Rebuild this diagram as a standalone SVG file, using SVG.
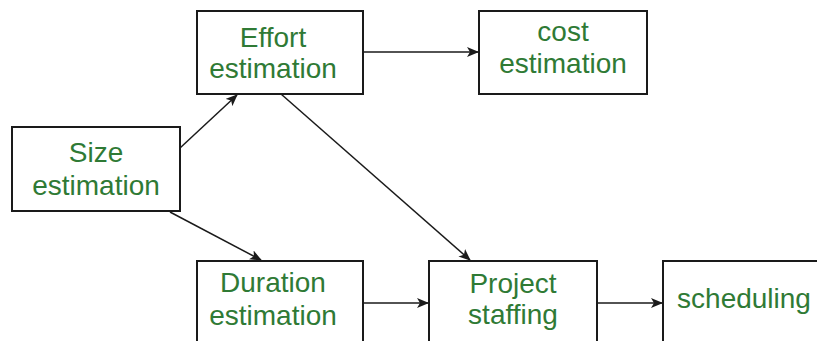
<svg xmlns="http://www.w3.org/2000/svg" width="817" height="341" viewBox="0 0 817 341">
  <style>
    .box { fill: #ffffff; stroke: #1a1a1a; stroke-width: 2; }
    .lbl { font-family: "Liberation Sans", Arial, sans-serif; font-size: 28px; fill: #2f7a35; text-anchor: middle; }
    .edge { fill: none; stroke: #1a1a1a; stroke-width: 1.5; marker-end: url(#arrow); }
  </style>
  <defs>
    <marker id="arrow" viewBox="0 0 12 10" refX="11" refY="5" markerWidth="12" markerHeight="10" markerUnits="userSpaceOnUse" orient="auto">
      <path d="M0,0 L12,5 L0,10 L3,5 Z" fill="#1a1a1a"/>
    </marker>
  </defs>
  <rect width="817" height="341" fill="#ffffff"/>

  <g id="connectors">
    <line class="edge" x1="363" y1="52" x2="478" y2="52"/>
    <line class="edge" x1="180" y1="148" x2="237" y2="95"/>
    <line class="edge" x1="281" y1="94" x2="470" y2="260"/>
    <line class="edge" x1="170" y1="212" x2="261" y2="260"/>
    <line class="edge" x1="363" y1="303" x2="428" y2="303"/>
    <line class="edge" x1="597" y1="303" x2="662" y2="303"/>
  </g>

  <g id="effort">
    <rect class="box" x="197" y="11" width="166" height="83"/>
    <text class="lbl" x="273" y="47">Effort</text>
    <text class="lbl" x="273" y="78">estimation</text>
  </g>

  <g id="cost">
    <rect class="box" x="479" y="11" width="168" height="83"/>
    <text class="lbl" x="563" y="40.5">cost</text>
    <text class="lbl" x="563" y="72.5">estimation</text>
  </g>

  <g id="size">
    <rect class="box" x="12" y="127" width="168" height="84"/>
    <text class="lbl" x="96" y="162">Size</text>
    <text class="lbl" x="96" y="195">estimation</text>
  </g>

  <g id="duration">
    <rect class="box" x="197" y="261" width="166" height="90"/>
    <text class="lbl" x="273" y="292">Duration</text>
    <text class="lbl" x="273" y="325">estimation</text>
  </g>

  <g id="staffing">
    <rect class="box" x="429" y="261" width="168" height="90"/>
    <text class="lbl" x="513" y="293">Project</text>
    <text class="lbl" x="513" y="324">staffing</text>
  </g>

  <g id="scheduling">
    <rect class="box" x="663" y="261" width="170" height="90"/>
    <text class="lbl" x="744" y="308">scheduling</text>
  </g>
</svg>
